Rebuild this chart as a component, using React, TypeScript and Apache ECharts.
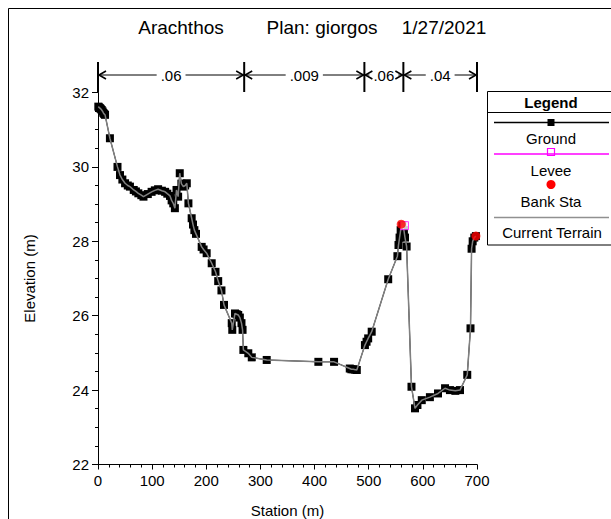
import React, { useEffect, useRef } from "react";
import * as echarts from "echarts";

const FONT = "'Liberation Sans', Arial, sans-serif";

// Ground profile (station m, elevation m)
const groundStations = [
  0.6, 2, 3.5, 5, 6.8, 8.5, 10, 11.5, 13, 22, 36, 40.6, 45, 50, 55, 59, 66, 70, 74.5, 80, 84, 92, 99,
  105, 111, 118, 124, 128, 133, 136, 139, 142, 145, 148, 151, 154, 157.6, 161, 164, 167, 173, 175.5,
  178, 181, 191.5, 195, 200.7, 210, 217, 222, 228, 232.7, 247, 248, 253, 256, 259, 262, 265, 267,
  268.5, 277.6, 284, 311.6, 407, 436, 465, 468, 471.6, 475, 478, 493, 496, 499, 505.5, 536, 553, 555,
  557, 559, 562, 565, 567, 570, 579, 585.5, 590, 598, 613, 628, 641, 650, 660, 668.6, 682, 688, 690,
  692, 695, 698,
];
const groundElevations = [
  31.62, 31.6, 31.58, 31.56, 31.53, 31.49, 31.45, 31.42, 31.4, 30.77, 30.0, 29.78, 29.66, 29.56,
  29.5, 29.47, 29.38, 29.34, 29.29, 29.24, 29.2, 29.27, 29.33, 29.37, 29.4, 29.36, 29.33, 29.28,
  29.22, 29.1, 29.02, 28.89, 29.38, 29.2, 29.83, 29.55, 29.47, 29.5, 29.56, 29.02, 28.62, 28.45,
  28.3, 28.2, 27.85, 27.78, 27.68, 27.41, 27.18, 26.93, 26.68, 26.29, 25.8, 25.62, 26.06, 26.04,
  26.02, 25.95, 25.8, 25.62, 25.08, 24.99, 24.88, 24.81, 24.76, 24.76, 24.58, 24.56, 24.56, 24.55,
  24.54, 25.21, 25.3, 25.39, 25.57, 26.98, 27.6, 27.9, 28.1, 28.3, 28.42, 28.3, 28.1, 27.86, 24.09,
  23.51, 23.6, 23.73, 23.81, 23.91, 24.05, 24.0, 23.98, 24.0, 24.41, 25.66, 27.8, 28.0, 28.1, 28.14,
];
const leveeStations = [566];
const leveeElevations = [28.42];
const bankStations = [560, 698];
const bankElevations = [28.46, 28.14];

// Manning's n breaks
const nBreaks = [0, 270, 492, 564, 700];
const nValues = [".06", ".009", ".06", ".04"];

const titleParts = ["Arachthos", "Plan: giorgos", "1/27/2021"];

function measure(text: string, size: number) {
  const c = document.createElement("canvas").getContext("2d");
  if (!c) return text.length * size * 0.55;
  c.font = `${size}px 'Liberation Sans', Arial, sans-serif`;
  return c.measureText(text).width;
}

export default function App() {
  const ref = useRef<HTMLDivElement>(null);
  useEffect(() => {
    if (!ref.current) return;
    const chart = echarts.init(ref.current, null, { renderer: "svg" });
    const ground = groundStations.map((s, i) => [s, groundElevations[i]]);
    const levee = leveeStations.map((s, i) => [s, leveeElevations[i]]);
    const bank = bankStations.map((s, i) => [s, bankElevations[i]]);
    const axisCommon = {
      axisLine: { show: true, onZero: false, lineStyle: { color: "#000", width: 1 } },
      axisTick: { show: true, length: 5, lineStyle: { color: "#000" } },
      minorTick: { show: true, length: 3, lineStyle: { color: "#000" } },
      splitLine: { show: false },
      axisLabel: { color: "#000", fontSize: 15, fontFamily: FONT },
      nameTextStyle: { color: "#000", fontSize: 15, fontFamily: FONT },
    };
    chart.setOption({
      animation: false,
      backgroundColor: "#fff",
      grid: { left: 98, right: 134, top: 92.5, bottom: 54.5, containLabel: false, outerBoundsMode: "none" },
      xAxis: {
        type: "value",
        min: 0,
        max: 700,
        interval: 100,
        name: "Station (m)",
        nameLocation: "middle",
        nameGap: 38,
        ...axisCommon,
        minorTick: { show: true, splitNumber: 5, length: 3, lineStyle: { color: "#000" } },
        axisLabel: { ...axisCommon.axisLabel, margin: 8 },
      },
      yAxis: {
        type: "value",
        min: 22,
        max: 32,
        interval: 2,
        name: "Elevation (m)",
        nameLocation: "middle",
        nameGap: 61,
        ...axisCommon,
        minorTick: { show: true, splitNumber: 4, length: 3, lineStyle: { color: "#000" } },
        axisTick: { show: true, length: 6, lineStyle: { color: "#000" } },
        axisLabel: { ...axisCommon.axisLabel, margin: 9 },
      },
      series: [
        {
          name: "Ground",
          type: "line",
          data: ground,
          symbol: "rect",
          symbolSize: 8,
          showAllSymbol: true,
          itemStyle: { color: "#000" },
          lineStyle: { color: "#000", width: 1 },
          z: 2,
        },
        {
          name: "Current Terrain",
          type: "line",
          data: ground,
          symbol: "none",
          lineStyle: { color: "#808080", width: 1.5 },
          z: 3,
        },
        {
          name: "Levee",
          type: "scatter",
          data: levee,
          symbol: "rect",
          symbolSize: 8,
          itemStyle: { color: "#fff", borderColor: "#ff00ff", borderWidth: 1 },
          z: 4,
        },
        {
          name: "Bank Sta",
          type: "scatter",
          data: bank,
          symbol: "circle",
          symbolSize: 9,
          itemStyle: { color: "#ff0000" },
          z: 5,
        },
      ],
    });

    const g: any[] = [];
    // outer frame
    g.push({ type: "rect", shape: { x: 8.5, y: 8.5, width: 800, height: 800 }, style: { fill: "none", stroke: "#000", lineWidth: 1 }, silent: true });
    // title
    const titleX = [181, 322, 444];
    titleParts.forEach((t, i) => {
      g.push({ type: "text", x: titleX[i], y: 27, style: { text: t, fontSize: 19, fontFamily: FONT, fill: "#000", align: "center", verticalAlign: "middle" } });
    });
    // Manning's n bar
    const yBar = 75;
    const px = nBreaks.map((s) => chart.convertToPixel({ xAxisIndex: 0 }, s) as number);
    px.forEach((x) => {
      g.push({ type: "line", shape: { x1: x, y1: 62, x2: x, y2: 92 }, style: { stroke: "#000", lineWidth: 2 } });
    });
    nValues.forEach((v, i) => {
      const a = px[i];
      const b = px[i + 1];
      const c = (a + b) / 2;
      const w = measure(v, 15);
      const l1 = c - w / 2 - 4;
      const r1 = c + w / 2 + 4;
      g.push({ type: "text", x: c, y: yBar, style: { text: v, fontSize: 15, fontFamily: FONT, fill: "#000", align: "center", verticalAlign: "middle" } });
      if (l1 > a + 1) g.push({ type: "line", shape: { x1: a, y1: yBar, x2: l1, y2: yBar }, style: { stroke: "#000", lineWidth: 1 } });
      if (r1 < b - 1) g.push({ type: "line", shape: { x1: r1, y1: yBar, x2: b, y2: yBar }, style: { stroke: "#000", lineWidth: 1 } });
      g.push({ type: "polyline", shape: { points: [[a + 8, yBar - 4], [a + 1, yBar], [a + 8, yBar + 4]] }, style: { stroke: "#000", lineWidth: 1.6, fill: "none" } });
      g.push({ type: "polyline", shape: { points: [[b - 8, yBar - 4], [b - 1, yBar], [b - 8, yBar + 4]] }, style: { stroke: "#000", lineWidth: 1.6, fill: "none" } });
    });
    // Legend box
    const lx = 487;
    const cx = 551;
    g.push({ type: "rect", shape: { x: lx + 0.5, y: 91.5, width: 300, height: 153.5 }, style: { fill: "#fff", stroke: "#000", lineWidth: 1 } });
    g.push({ type: "line", shape: { x1: lx, y1: 112.5, x2: 611, y2: 112.5 }, style: { stroke: "#000", lineWidth: 1 } });
    g.push({ type: "text", x: cx, y: 102.5, style: { text: "Legend", fontSize: 15, fontWeight: "bold", fontFamily: FONT, fill: "#000", align: "center", verticalAlign: "middle" } });
    // Ground
    g.push({ type: "line", shape: { x1: 494, y1: 122.5, x2: 609, y2: 122.5 }, style: { stroke: "#000", lineWidth: 1.5 } });
    g.push({ type: "rect", shape: { x: cx - 3.5, y: 119, width: 7, height: 7 }, style: { fill: "#000" } });
    g.push({ type: "text", x: cx, y: 138.5, style: { text: "Ground", fontSize: 15, fontFamily: FONT, fill: "#000", align: "center", verticalAlign: "middle" } });
    // Levee
    g.push({ type: "line", shape: { x1: 494, y1: 154, x2: 609, y2: 154 }, style: { stroke: "#ff00ff", lineWidth: 1.5 } });
    g.push({ type: "rect", shape: { x: cx - 3.5, y: 148.5, width: 7, height: 7 }, style: { fill: "none", stroke: "#ff00ff", lineWidth: 1.2 } });
    g.push({ type: "text", x: cx, y: 170.5, style: { text: "Levee", fontSize: 15, fontFamily: FONT, fill: "#000", align: "center", verticalAlign: "middle" } });
    // Bank Sta
    g.push({ type: "circle", shape: { cx: cx, cy: 184.5, r: 4.5 }, style: { fill: "#ff0000" } });
    g.push({ type: "text", x: cx, y: 201, style: { text: "Bank Sta", fontSize: 15, fontFamily: FONT, fill: "#000", align: "center", verticalAlign: "middle" } });
    // Current terrain
    g.push({ type: "line", shape: { x1: 494, y1: 217.5, x2: 609, y2: 217.5 }, style: { stroke: "#909090", lineWidth: 1.5 } });
    g.push({ type: "text", x: cx + 1, y: 232.5, style: { text: "Current Terrain", fontSize: 15, fontFamily: FONT, fill: "#000", align: "center", verticalAlign: "middle" } });

    chart.setOption({ graphic: g });
    return () => chart.dispose();
  }, []);
  return <div ref={ref} style={{ position: "fixed", left: 0, top: 0, width: 611, height: 519 }} />;
}
